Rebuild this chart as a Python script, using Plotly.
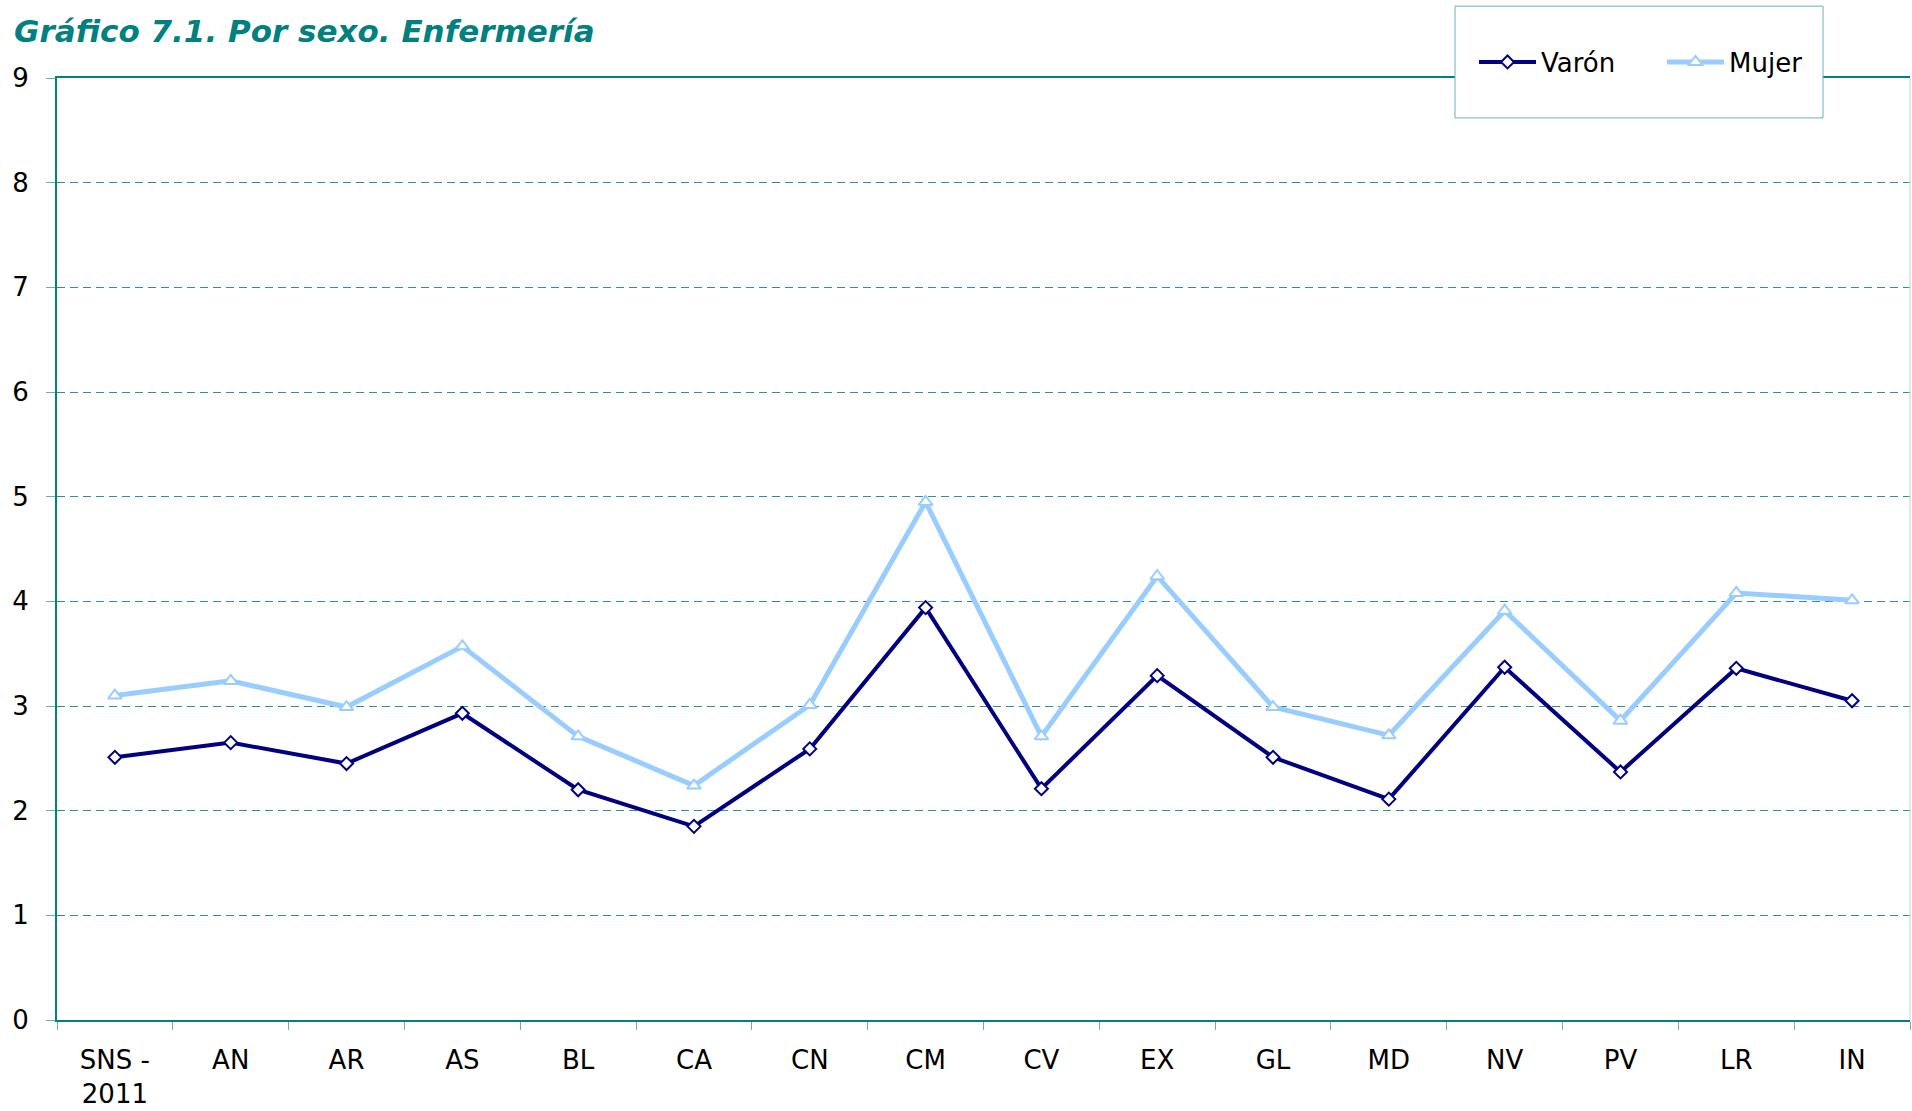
import plotly.graph_objects as go

categories = ["SNS -<br>2011", "AN", "AR", "AS", "BL", "CA", "CN", "CM", "CV",
              "EX", "GL", "MD", "NV", "PV", "LR", "IN"]
varon = [2.51, 2.65, 2.45, 2.93, 2.20, 1.85, 2.59, 3.94, 2.21, 3.29, 2.51, 2.11,
         3.37, 2.37, 3.36, 3.05]
mujer = [3.10, 3.24, 2.99, 3.57, 2.71, 2.24, 3.01, 4.95, 2.71, 4.24, 2.99, 2.72,
         3.91, 2.86, 4.08, 4.01]
y_ticks = [0, 1, 2, 3, 4, 5, 6, 7, 8, 9]

TEAL = "#008080"
LIGHT_TEAL = "#66b2b2"
GRID = "#2a9494"
FONT = "DejaVu Sans"

fig = go.Figure()
fig.add_trace(go.Scatter(
    x=categories, y=varon, name="Varón", mode="lines+markers",
    line=dict(color="#000080", width=4),
    marker=dict(symbol="diamond", size=10, color="white",
                line=dict(color="#000080", width=2)),
))
fig.add_trace(go.Scatter(
    x=categories, y=mujer, name="Mujer", mode="lines+markers",
    line=dict(color="#99CCFF", width=5),
    marker=dict(symbol="triangle-up", size=12, color="white",
                line=dict(color="#99CCFF", width=2)),
))

W, H = 1912, 1111
ml, mr, mt, mb = 57, 2, 78, 89
pw, ph = W - ml - mr, H - mt - mb


def px(xp):
    return (xp - ml) / pw


def py(yp):
    return (H - mb - yp) / ph


fig.update_layout(
    width=W, height=H,
    margin=dict(l=ml, r=mr, t=mt, b=mb),
    paper_bgcolor="white", plot_bgcolor="white",
    font=dict(family=FONT, size=26, color="black"),
    title=dict(
        text="Gráfico 7.1. Por sexo. Enfermería",
        font=dict(family=FONT, size=31, color=TEAL, weight="bold", style="italic"),
        x=14 / W, xref="container", xanchor="left",
        y=1 - 31 / H, yref="container", yanchor="middle",
    ),
    xaxis=dict(
        type="category", range=[-0.5, len(categories) - 0.5],
        tickson="boundaries", ticks="outside", ticklen=8, tickcolor=LIGHT_TEAL,
        tickwidth=1, showline=True, linecolor=TEAL, linewidth=2, mirror=True,
        showgrid=False, ticklabelstandoff=16,
        tickfont=dict(family=FONT, size=26, color="black"),
    ),
    yaxis=dict(
        range=[0, 9], tickvals=y_ticks, showgrid=True, gridcolor=GRID,
        griddash="8px,5px", gridwidth=1, showline=True, linecolor=TEAL,
        linewidth=2, ticks="outside", ticklen=9, tickcolor=LIGHT_TEAL,
        ticklabelstandoff=12, zeroline=False,
        tickfont=dict(family=FONT, size=26, color="black"),
    ),
    legend=dict(
        orientation="h", x=px(1474), xanchor="left", y=py(62), yanchor="middle",
        bgcolor="rgba(0,0,0,0)", borderwidth=0, itemwidth=57,
        font=dict(family=FONT, size=26, color="black"),
        entrywidth=116,
    ),
    showlegend=True,
    shapes=[
        dict(type="rect", xref="paper", yref="paper",
             x0=px(1455), x1=px(1823), y0=py(118), y1=py(6),
             fillcolor="white", line=dict(color=LIGHT_TEAL, width=1), layer="above"),
        dict(type="line", xref="paper", yref="paper", x0=1, x1=1, y0=0, y1=1,
             line=dict(color="#b2d8d8", width=1), layer="above"),
    ],
)

fig.write_html("out.html", config={"displayModeBar": False},
               post_script="document.body.style.margin='0';document.body.style.overflow='hidden';")
